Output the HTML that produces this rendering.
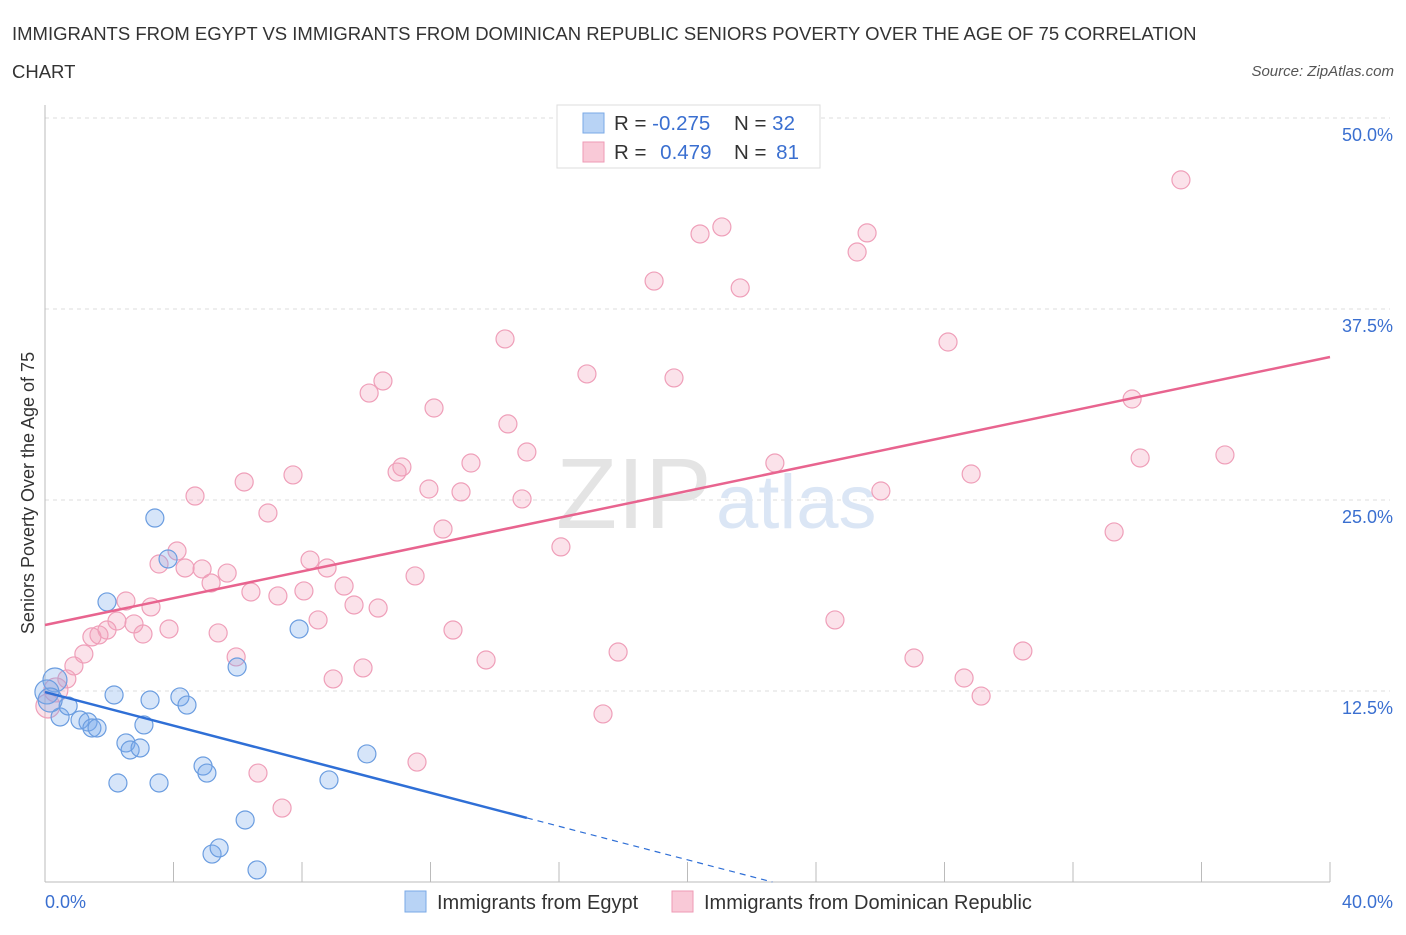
<!DOCTYPE html>
<html><head><meta charset="utf-8">
<style>
html,body{margin:0;padding:0;background:#fff;}
body{width:1406px;height:930px;overflow:hidden;font-family:"Liberation Sans",sans-serif;}
svg text{font-family:"Liberation Sans",sans-serif;}
</style></head>
<body>
<svg id="chart" width="1406" height="930" xmlns="http://www.w3.org/2000/svg">
<text x="12" y="40" font-size="18.5" fill="#333">IMMIGRANTS FROM EGYPT VS IMMIGRANTS FROM DOMINICAN REPUBLIC SENIORS POVERTY OVER THE AGE OF 75 CORRELATION</text>
<text x="12" y="78" font-size="18.5" fill="#333">CHART</text>
<text x="1394" y="76" font-size="15" fill="#555" font-style="italic" text-anchor="end">Source: ZipAtlas.com</text>
<g id="grid"></g>
<g>
<text x="556" y="528" font-family="Liberation Serif, serif" font-size="100" fill="#e4e4e4">ZIP</text>
<text x="716" y="528" font-size="76" fill="#dbe6f5">atlas</text>
</g>
<text transform="translate(34,493) rotate(-90)" font-size="18" fill="#333" text-anchor="middle">Seniors Poverty Over the Age of 75</text>
<g id="marks"></g>
<g>
<rect x="557" y="105" width="263" height="63" fill="#fff" stroke="#ddd"/>
<rect x="583" y="113" width="21" height="20" fill="#b8d3f5" stroke="#7aa8e6"/>
<rect x="583" y="142" width="21" height="20" fill="#f9c9d7" stroke="#ee9ab4"/>
<text x="614" y="130" font-size="20.5" fill="#333">R = <tspan fill="#3a6fd0">-0.275</tspan></text>
<text x="734" y="130" font-size="20.5" fill="#333">N = <tspan fill="#3a6fd0">32</tspan></text>
<text x="614" y="159" font-size="20.5" fill="#333">R = <tspan fill="#3a6fd0" dx="8">0.479</tspan></text>
<text x="734" y="159" font-size="20.5" fill="#333">N = <tspan fill="#3a6fd0" dx="4">81</tspan></text>
</g>
<g>
<rect x="405" y="891" width="21" height="21" fill="#b8d3f5" stroke="#7aa8e6"/>
<text x="437" y="909" font-size="20" fill="#333">Immigrants from Egypt</text>
<rect x="672" y="891" width="21" height="21" fill="#f9c9d7" stroke="#ee9ab4"/>
<text x="704" y="909" font-size="20" fill="#333">Immigrants from Dominican Republic</text>
</g>
</svg>
<script>
const egyptX=[3.42,3.83,1.93,7.91,5.98,2.15,3.27,4.20,4.42,0.31,0.06,0.47,0.72,1.09,1.34,1.46,1.62,3.08,2.52,2.65,2.96,4.92,5.04,2.27,3.55,8.84,10.02,6.23,5.20,5.42,6.60,0.16];
const egyptY=[23.82,21.14,18.33,16.56,14.07,12.24,11.91,12.11,11.58,13.22,12.44,10.80,11.52,10.60,10.47,10.08,10.08,10.28,9.10,8.64,8.77,7.59,7.13,6.48,6.48,6.68,8.38,4.06,1.83,2.23,0.79,11.91];
const domX=[35.36,21.07,20.39,25.59,25.28,18.96,21.64,14.32,28.11,16.87,19.58,10.52,10.09,33.84,12.11,14.41,15.00,34.09,36.73,13.26,22.72,11.11,10.96,28.83,7.72,6.20,11.95,12.95,26.02,4.67,14.85,6.94,12.39,33.28,16.06,4.11,3.55,8.25,4.36,4.89,5.67,8.78,11.52,5.17,9.31,6.41,8.06,7.25,2.52,9.62,10.37,3.30,2.24,8.50,2.77,24.59,1.93,1.68,1.46,3.05,3.86,5.39,12.70,1.21,5.95,17.84,30.44,0.90,27.05,13.73,9.90,0.68,8.97,28.61,0.34,29.14,0.09,17.37,6.63,11.58,7.38];
const domY=[45.95,42.87,42.41,42.48,41.23,39.33,38.88,35.54,35.34,33.25,32.99,32.79,32.00,31.61,31.02,29.98,28.14,27.75,27.95,27.42,27.42,27.16,26.83,26.70,26.64,26.18,25.72,25.53,25.59,25.26,25.07,24.15,23.10,22.91,21.93,21.66,20.81,21.07,20.55,20.49,20.22,20.55,20.03,19.57,19.37,18.98,19.05,18.72,18.39,18.13,17.93,18.00,17.08,17.15,16.89,17.15,16.49,16.17,16.04,16.23,16.56,16.30,16.49,14.92,14.73,15.05,15.12,14.14,14.66,14.53,14.01,13.29,13.29,13.35,12.57,12.17,11.52,11.00,7.13,7.85,4.84];
const yTicks=[12.5,25.0,37.5,50.0];
const yTickLabels=["12.5%","25.0%","37.5%","50.0%"];
const xTicks=[0,4,8,12,16,20,24,28,32,36,40];
const egyptTrend=[12.43,-0.549];
const domTrend=[16.82,0.4385];

const NS="http://www.w3.org/2000/svg";
const X0=45,X1=1330,Y0=882,Y1=118;
const sx=v=>X0+(v/40)*(X1-X0);
const sy=v=>Y0-(v/50)*(Y0-Y1);
function mk(tag,attrs,parent){const e=document.createElementNS(NS,tag);for(const k in attrs)e.setAttribute(k,attrs[k]);parent.appendChild(e);return e;}
const grid=document.getElementById('grid');
const marks=document.getElementById('marks');
yTicks.forEach((t,i)=>{
  const l=mk('line',{x1:X0,x2:X1+60,y1:sy(t),y2:sy(t),stroke:'#ddd','stroke-dasharray':'4,4'},grid);
  
  
  const tx=mk('text',{x:1393,y:sy(t)+23,'font-size':18,fill:'#3a6fd0','text-anchor':'end'},grid);
  tx.textContent=yTickLabels[i];
  
  
});
const ya=mk('line',{x1:X0,x2:X0,y1:105,y2:Y0,stroke:'#bbb'},grid);


const xa=mk('line',{x1:X0,x2:X1,y1:Y0,y2:Y0,stroke:'#bbb'},grid);


xTicks.forEach(t=>{
  const l=mk('line',{x1:sx(t),x2:sx(t),y1:Y0-20,y2:Y0,stroke:'#bbb'},grid);
  
  
});
const xl0=mk('text',{x:45,y:908,'font-size':18,fill:'#3a6fd0'},grid);xl0.textContent='0.0%';


const xl1=mk('text',{x:1393,y:908,'font-size':18,fill:'#3a6fd0','text-anchor':'end'},grid);xl1.textContent='40.0%';



domX.forEach((x,i)=>{
  const big=x<0.5;
  const c=mk('circle',{cx:sx(x),cy:sy(domY[i]),r:big?12:9,fill:'rgba(242,160,187,0.3)',stroke:'#ef9fb9','stroke-width':1.2},marks);
  
  
});
egyptX.forEach((x,i)=>{
  const big=x<0.4;
  const c=mk('circle',{cx:sx(x),cy:sy(egyptY[i]),r:big?12:9,fill:'rgba(120,170,235,0.3)',stroke:'#6b9de0','stroke-width':1.2},marks);
  
  
});
const dl=mk('line',{x1:sx(0),y1:sy(domTrend[0]),x2:sx(40),y2:sy(domTrend[0]+domTrend[1]*40),stroke:'#e8648f','stroke-width':2.5},marks);


const xe=15,xz=-egyptTrend[0]/egyptTrend[1];
const el1=mk('line',{x1:sx(0),y1:sy(egyptTrend[0]),x2:sx(xe),y2:sy(egyptTrend[0]+egyptTrend[1]*xe),stroke:'#2f6fd6','stroke-width':2.5},marks);


const el2=mk('line',{x1:sx(xe),y1:sy(egyptTrend[0]+egyptTrend[1]*xe),x2:sx(xz),y2:sy(0),stroke:'#2f6fd6','stroke-width':1.2,'stroke-dasharray':'6,5'},marks);


</script>
</body></html>
